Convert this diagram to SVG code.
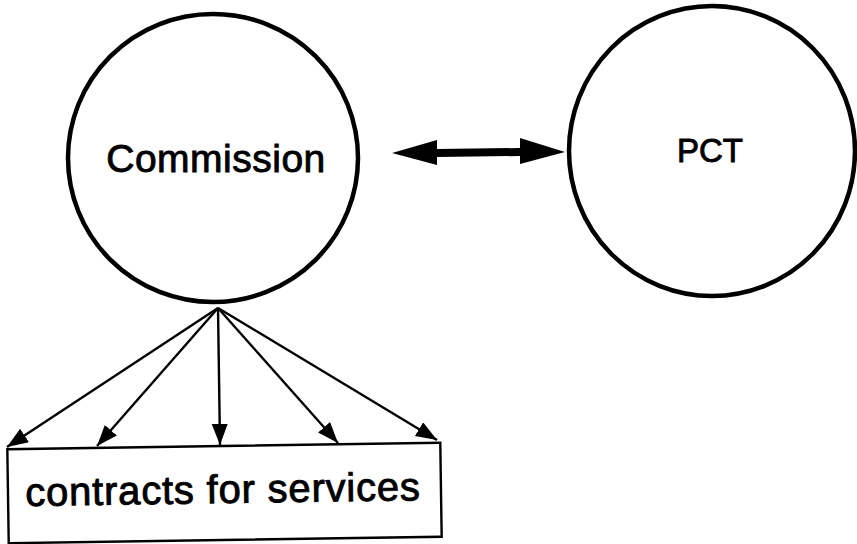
<svg xmlns="http://www.w3.org/2000/svg" width="857" height="544" viewBox="0 0 857 544">
  <style>
    .node { fill: #fff; stroke: #000; stroke-width: 4.5; }
    .box { fill: #fff; stroke: #000; stroke-width: 2.4; }
    .label { font-family: "Liberation Sans", Arial, sans-serif; fill: #000; stroke: #000; stroke-width: 0.9; text-anchor: middle; }
    .fan { stroke: #000; stroke-width: 2.4; fill: none; marker-end: url(#head); }
  </style>
  <defs>
    <marker id="head" markerUnits="userSpaceOnUse" markerWidth="24" markerHeight="18" refX="21" refY="8" orient="auto">
      <path d="M0,0 L21,8 L0,16 z" fill="#000"/>
    </marker>
  </defs>
  <rect width="857" height="544" fill="#fff"/>

  <g id="commission">
    <ellipse class="node" cx="213" cy="158" rx="145" ry="144"/>
    <text class="label" x="216" y="172" font-size="39" letter-spacing="0.5">Commission</text>
  </g>

  <g id="pct">
    <ellipse class="node" cx="712" cy="151" rx="143" ry="145"/>
    <text class="label" x="710" y="162" font-size="33">PCT</text>
  </g>

  <g id="contracts" transform="rotate(-0.85 225 493)">
    <rect class="box" x="8" y="446" width="433" height="94"/>
    <text class="label" x="223" y="503" font-size="40" letter-spacing="0.8">contracts for services</text>
  </g>

  <g id="connectors">
    <!-- two-way link between Commission and PCT -->
    <polygon points="392,153 437,140 437,149 520,148 520,138 565,152 520,164 520,156 437,157 437,165" fill="#000"/>
    <!-- Commission to contracts -->
    <line class="fan" x1="218" y1="308" x2="7" y2="447"/>
    <line class="fan" x1="218" y1="308" x2="97" y2="446"/>
    <line class="fan" x1="218" y1="308" x2="220" y2="445"/>
    <line class="fan" x1="218" y1="308" x2="338" y2="443"/>
    <line class="fan" x1="218" y1="308" x2="437" y2="440"/>
  </g>
</svg>
